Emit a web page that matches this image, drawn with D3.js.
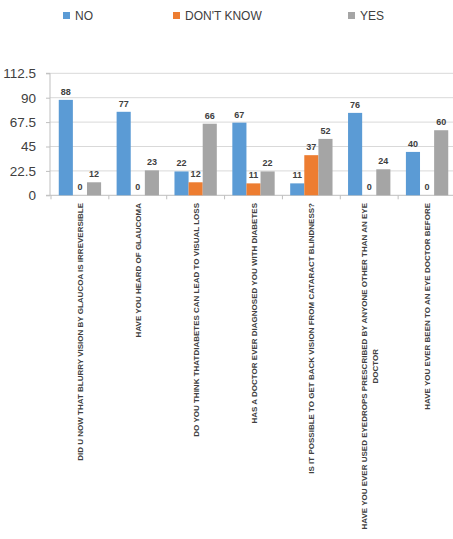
<!DOCTYPE html>
<html><head><meta charset="utf-8">
<script src="https://cdn.jsdelivr.net/npm/d3@7"></script>
<style>body{margin:0;background:#fff}svg{display:block}</style>
</head><body>
<svg id="c" width="453" height="539"></svg>
<script>
const categories = [
  ["DID U NOW THAT BLURRY VISION BY GLAUCOA IS IRREVERSIBLE"],
  ["HAVE YOU HEARD OF GLAUCOMA"],
  ["DO YOU THINK THATDIABETES CAN LEAD TO VISUAL LOSS"],
  ["HAS A DOCTOR EVER DIAGNOSED YOU WITH DIABETES"],
  ["IS IT POSSIBLE TO GET BACK VISION FROM CATARACT BLINDNESS?"],
  ["HAVE YOU EVER USED EYEDROPS PRESCRIBED BY ANYONE OTHER THAN AN EYE", "DOCTOR"],
  ["HAVE YOU EVER BEEN TO AN EYE DOCTOR BEFORE"]
];
const seriesNames = ["NO", "DON'T KNOW", "YES"];
const noValues = [88, 77, 22, 67, 11, 76, 40];
const dontKnowValues = [0, 0, 12, 11, 37, 0, 0];
const yesValues = [12, 23, 66, 22, 52, 24, 60];
const yTicks = [0, 22.5, 45, 67.5, 90, 112.5];
const colors = ["#5B9BD5", "#ED7D31", "#A5A5A5"];

const series = [noValues, dontKnowValues, yesValues];
const svg = d3.select("#c");
const font = "'Liberation Sans', Arial, sans-serif";

const x0 = d3.scaleBand().domain(d3.range(categories.length)).range([51, 456]).paddingInner(0).paddingOuter(0);
const x1 = d3.scaleBand().domain(d3.range(3)).range([0, x0.bandwidth()]).paddingOuter(0.55).paddingInner(0);
const y = d3.scaleLinear().domain([0, 112.5]).range([195.3, 73.3]);

// gridlines
svg.append("g").selectAll("line").data(yTicks.slice(1)).join("line")
  .attr("x1", 50).attr("x2", 453).attr("y1", d => y(d)).attr("y2", d => y(d))
  .attr("stroke", "#d9d9d9").attr("stroke-width", 1);

// y axis
const yAxis = svg.append("g").attr("transform", "translate(50,0)")
  .call(d3.axisLeft(y).tickValues(yTicks).tickSize(4).tickPadding(10).tickFormat(d => d));
yAxis.select(".domain").attr("stroke", "#bfbfbf").attr("d", `M-4,${y(112.5)}H0V${y(0)}H-4`);
yAxis.selectAll(".tick line").attr("stroke", "#bfbfbf");
yAxis.selectAll("text").attr("font-family", font).attr("font-size", 13.5).attr("fill", "#404040");

// x axis line + ticks
const xAxis = svg.append("g").attr("transform", `translate(0,${y(0)})`)
  .call(d3.axisBottom(x0).tickSize(0).tickFormat(""));
xAxis.select(".domain").attr("stroke", "#bfbfbf").attr("d", `M50,0H453`);
svg.append("g").selectAll("line").data(d3.range(categories.length + 1)).join("line")
  .attr("x1", i => x0.range()[0] + i * x0.step()).attr("x2", i => x0.range()[0] + i * x0.step())
  .attr("y1", y(0)).attr("y2", y(0) + 4).attr("stroke", "#bfbfbf");

// bars
const groups = svg.append("g").selectAll("g").data(categories).join("g")
  .attr("transform", (d, i) => `translate(${x0(i)},0)`);
groups.each(function(c, i) {
  const g = d3.select(this);
  series.forEach((s, k) => {
    const v = s[i];
    g.append("rect").attr("x", x1(k)).attr("width", x1.bandwidth())
      .attr("y", y(v)).attr("height", y(0) - y(v)).attr("fill", colors[k]);
    g.append("text").attr("x", x1(k) + x1.bandwidth() / 2).attr("y", y(v) - 5)
      .attr("text-anchor", "middle").attr("font-family", font).attr("font-weight", "bold")
      .attr("font-size", 9).attr("fill", "#404040").text(v);
  });
});

// category labels (rotated)
categories.forEach((lines, i) => {
  const cx = x0(i) + x0.bandwidth() / 2;
  const n = lines.length;
  lines.forEach((ln, j) => {
    const off = (j - (n - 1) / 2) * 11;
    const t = svg.append("text")
      .attr("transform", `translate(${cx + off + 3},203) rotate(-90)`)
      .attr("font-family", font).attr("font-size", 8).attr("font-weight", "bold")
      .attr("fill", "#404040").text(ln);
    if (j === 0) t.attr("text-anchor", "end");
    else {
      t.attr("text-anchor", "middle");
      t.attr("data-center", 1);
    }
  });
});
// center second line relative to first
svg.selectAll("text[data-center]").each(function() {
  // computed below
});
(function() {
  const i = 5;
  const cx = x0(i) + x0.bandwidth() / 2;
  const first = svg.selectAll("text").filter(function() { return d3.select(this).text() === categories[i][0]; }).node();
  const len = first.getComputedTextLength();
  svg.selectAll("text[data-center]").attr("transform", `translate(${cx + 5.5 + 3},${203 + len / 2}) rotate(-90)`);
})();

// legend
const legendX = [63, 173, 348];
seriesNames.forEach((name, k) => {
  svg.append("rect").attr("x", legendX[k]).attr("y", 12).attr("width", 7).attr("height", 7).attr("fill", colors[k]);
  svg.append("text").attr("x", legendX[k] + 12).attr("y", 20).attr("font-family", font)
    .attr("font-size", 12).attr("fill", "#404040").text(name);
});
</script>
</body></html>
